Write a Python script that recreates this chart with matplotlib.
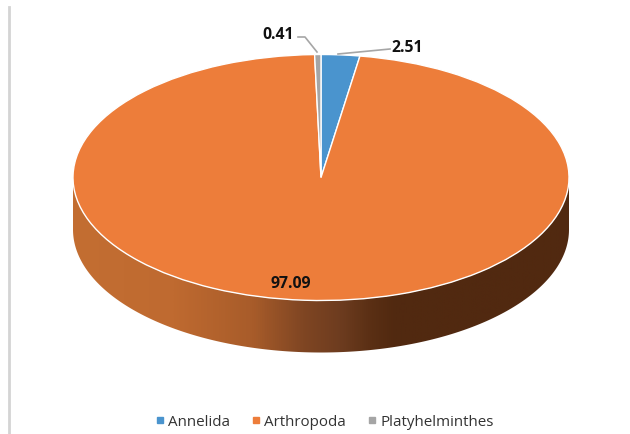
import numpy as np
import matplotlib
matplotlib.use("Agg")
import matplotlib.pyplot as plt
from matplotlib.colors import LinearSegmentedColormap
from matplotlib.lines import Line2D
from matplotlib.patches import Polygon

categories = ["Annelida", "Arthropoda", "Platyhelminthes"]
values = [2.51, 97.09, 0.41]
value_labels = ["2.51", "97.09", "0.41"]
colors = ["#4A94CE", "#ED7D3A", "#A5A5A5"]

W, H = 630, 435
CX, CY, RX, RY, DEPTH = 321, 178.5, 248, 123, 52

plt.rcParams["font.family"] = ["Open Sans", "DejaVu Sans"]
fig = plt.figure(figsize=(W / 100, H / 100), dpi=100, facecolor="white")
ax = fig.add_axes([0, 0, 1, 1])

# Unit circle in data space maps onto the tilted ellipse on the canvas.
xlim = ((0 - CX) / RX, (W - CX) / RX)
ylim = ((CY - H) / RY, CY / RY)
depth = DEPTH / RY

# Rim of the disc: shaded from left to right, clipped to the lower half outline.
t = np.linspace(np.pi, 2 * np.pi, 300)
rim_top = np.column_stack([np.cos(t), np.sin(t)])
rim_bottom = (rim_top - [0, depth])[::-1]
rim = Polygon(np.vstack([rim_top, rim_bottom]), closed=True, fc="none", ec="none")
ax.add_patch(rim)
shade = LinearSegmentedColormap.from_list(
    "rim",
    [(0.0, "#C36E32"), (0.20, "#BF6A30"), (0.36, "#A85C2A"),
     (0.46, "#804623"), (0.54, "#6D3C1F"), (0.60, "#5A2F14"),
     (0.65, "#512910"), (1.0, "#512910")],
)
img = ax.imshow(np.linspace(0, 1, 500)[None, :], cmap=shade, aspect="auto",
                extent=(-1, 1, -1.05 - depth, 0), zorder=1)
img.set_clip_path(rim)

wedges, _ = ax.pie(values, colors=colors, startangle=90, counterclock=False,
                   radius=1, wedgeprops={"edgecolor": "white", "linewidth": 1.0, "zorder": 2})
for w in wedges:
    w.set_zorder(2)
ax.set_aspect("auto")
ax.set_xlim(*xlim)
ax.set_ylim(*ylim)
ax.axis("off")


def px(x, y):
    """Canvas pixels (origin top-left) to figure fraction."""
    return x / W, 1 - y / H


# Left border of the chart area
fig.add_artist(Line2D([9 / W, 9 / W], [0, 1 - 8 / H], color="#D4D4D4", lw=2))

# Data labels
label_pos = [(407, 48), (291, 284), (278, 35)]
for text, (x, y) in zip(value_labels, label_pos):
    fx, fy = px(x, y)
    fig.text(fx, fy, text, ha="center", va="center", fontsize=11.3,
             fontweight="bold", color="#111111", zorder=5)

# Leader lines for the two thin slices
leaders = [[(390, 50), (338, 55)], [(298, 38), (305, 38), (317, 53)]]
for path in leaders:
    xs, ys = zip(*[px(*p) for p in path])
    fig.add_artist(Line2D(xs, ys, color="#A6A6A6", lw=1.2))

# Legend
handles = [Line2D([], [], ls="", marker="s", ms=5, color=c) for c in colors]
fig.legend(handles, categories, loc="center", bbox_to_anchor=px(323, 423), ncol=3,
           frameon=False, fontsize=10.9, labelcolor="#333333", handletextpad=0.05,
           columnspacing=1.2, handlelength=1.0, borderpad=0)

fig.savefig("out.png", dpi=100, facecolor="white")
